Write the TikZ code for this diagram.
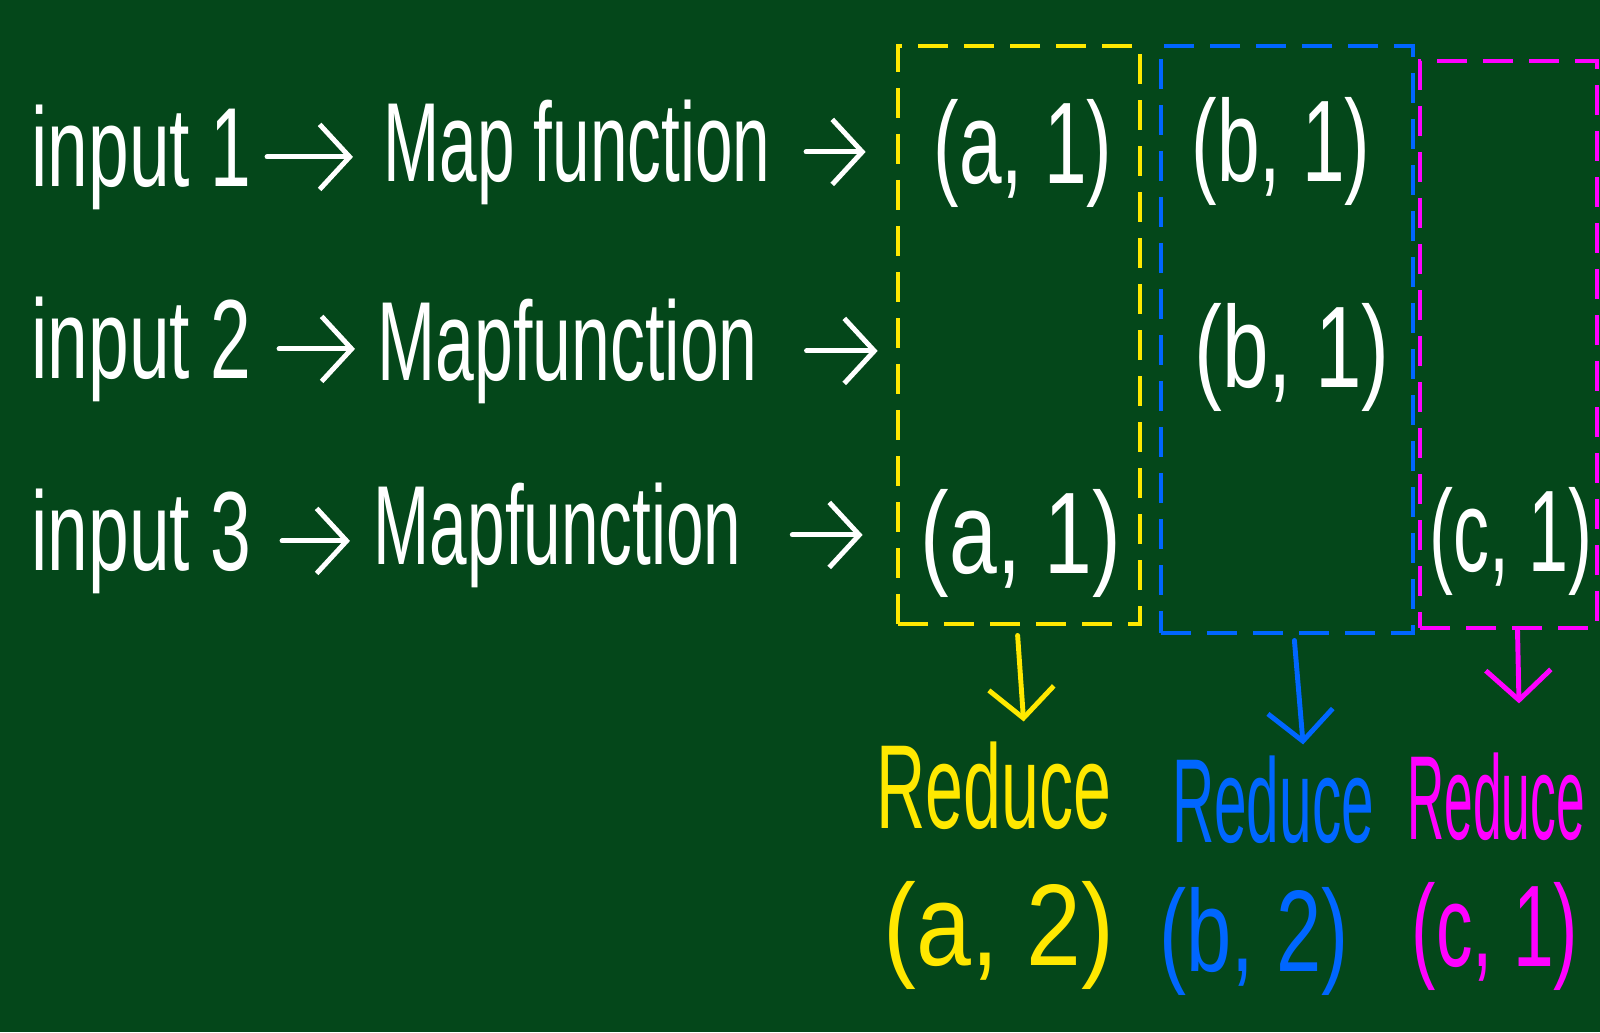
\documentclass[tikz,border=0pt]{standalone}
\usepackage{fontspec}
\setmainfont{Liberation Sans}
\usetikzlibrary{arrows.meta}
\definecolor{board}{RGB}{4,71,26}
\definecolor{chyellow}{RGB}{255,232,0}
\definecolor{chblue}{RGB}{0,102,255}
\definecolor{chmag}{RGB}{255,0,255}
\newcommand{\hw}[2]{\scalebox{#1}[1]{#2}}
\begin{document}
\begin{tikzpicture}[x=0.01cm,y=-0.01cm,
  txt/.style={inner sep=0pt, text=white, font=\fontsize{32}{38}\selectfont},
  pair/.style={inner sep=0pt, font=\fontsize{33}{40}\selectfont},
  redtxt/.style={inner sep=0pt, font=\fontsize{34}{40}\selectfont},
  arr/.style={-{Straight Barb[length=0.3cm,width=0.65cm]}, line width=1.4pt, line cap=round},
  dbox/.style={draw, line width=1.3pt, dash pattern=on 0.3cm off 0.16cm, inner sep=0pt}
]
\useasboundingbox (0,0) rectangle (1600,1032);
\fill[board] (0,0) rectangle (1600,1032);

% boxes
\node[dbox, draw=chyellow, minimum width=2.42cm, minimum height=5.78cm] (yb) at (1019,335) {};
\node[dbox, draw=chblue, minimum width=2.52cm, minimum height=5.87cm] (bb) at (1287,339.5) {};
\node[dbox, draw=chmag, minimum width=1.77cm, minimum height=5.67cm] (mb) at (1508.5,344.5) {};

% left texts
\node[txt, anchor=base west] (in1) at (31,186) {\hw{0.65}{input 1}};
\node[txt, anchor=base west] (in2) at (31,378) {\hw{0.65}{input 2}};
\node[txt, anchor=base west] (in3) at (31,570) {\hw{0.65}{input 3}};
\node[txt, anchor=base west] (map1) at (383,181) {\hw{0.6}{Map function}};
\node[txt, anchor=base west] (map2) at (377,380) {\hw{0.62}{Mapfunction}};
\node[txt, anchor=base west] (map3) at (373,564) {\hw{0.6}{Mapfunction}};

% row arrows
\draw[arr, white, shorten <=0.15cm, shorten >=0.3cm] (in1.east) -- (in1.east -| map1.west);
\draw[arr, white, shorten <=0.27cm, shorten >=0.22cm] (in2.east) -- (in2.east -| map2.west);
\draw[arr, white, shorten <=0.3cm, shorten >=0.23cm] (in3.east) -- (in3.east -| map3.west);
\draw[arr, white, shorten <=0.35cm, shorten >=0.3cm] (map1.east) -- (map1.east -| yb.west);
\draw[arr, white, shorten <=0.48cm, shorten >=0.18cm] (map2.east) -- (map2.east -| yb.west);
\draw[arr, white, shorten <=0.5cm, shorten >=0.33cm] (map3.east) -- (map3.east -| yb.west);

% pairs in boxes
\node[pair, text=white] (a1) at (1023,153) {\hw{0.66}{(a, 1)}};
\node[pair, text=white] (b1) at (1281,151) {\hw{0.66}{(b, 1)}};
\node[pair, text=white] (b2) at (1292,357) {\hw{0.72}{(b, 1)}};
\node[pair, text=white] (a3) at (1021,543) {\hw{0.74}{(a, 1)}};
\node[pair, text=white] (c3) at (1511,541) {\hw{0.62}{(c, 1)}};

% reduce
\node[redtxt, text=chyellow] (red1) at (994,786) {\hw{0.57}{Reduce}};
\node[redtxt, text=chblue] (red2) at (1273,800) {\hw{0.49}{Reduce}};
\node[redtxt, text=chmag] (red3) at (1496,797) {\hw{0.43}{Reduce}};

% down arrows
\draw[arr, chyellow, shorten <=0.09cm, shorten >=0.2cm] ([xshift=-0.02cm]yb.south) -- ([xshift=0.31cm]red1.north);
\draw[arr, chblue, shorten <=0.05cm, shorten >=0.11cm] ([xshift=0.07cm]bb.south) -- ([xshift=0.31cm]red2.north);
\draw[arr, chmag, shorten >=0.49cm] ([xshift=0.09cm]mb.south) -- ([xshift=0.24cm]red3.north);

% results
\node[pair, text=chyellow] (r1) at (999,935) {\hw{0.85}{(a, 2)}};
\node[pair, text=chblue] (r2) at (1254,941) {\hw{0.7}{(b, 2)}};
\node[pair, text=chmag] (r3) at (1495,936) {\hw{0.63}{(c, 1)}};
\end{tikzpicture}
\end{document}
